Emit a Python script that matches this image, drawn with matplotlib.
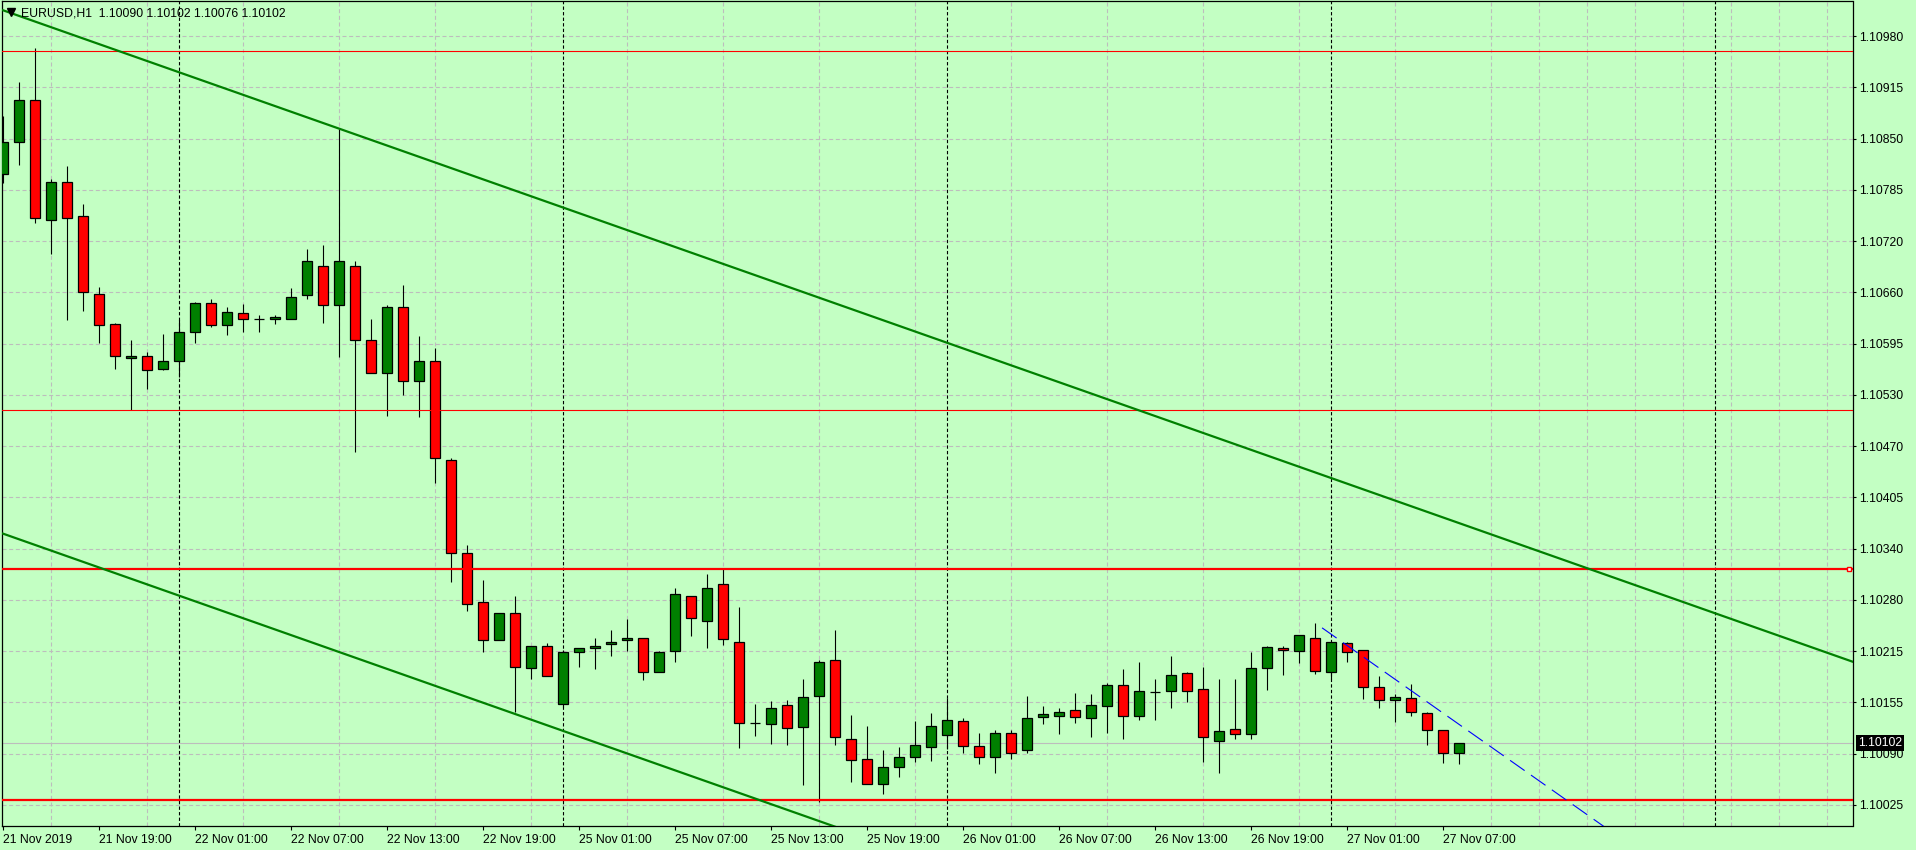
import matplotlib
matplotlib.use('Agg')
import matplotlib.pyplot as plt
from matplotlib.transforms import blended_transform_factory
import numpy as np

plt.rcParams['font.family'] = ['Liberation Sans', 'DejaVu Sans']

# Barras H1 do EURUSD (abertura, maxima, minima, fechamento)
opens = [1.10809, 1.10849, 1.10901, 1.10752, 1.10799, 1.10756, 1.10660, 1.10622, 1.10580, 1.10582,
         1.10567, 1.10576, 1.10613, 1.10649, 1.10621, 1.10636, 1.10629, 1.10628, 1.10629, 1.10658,
         1.10694, 1.10646, 1.10695, 1.10602, 1.10561, 1.10643, 1.10551, 1.10576, 1.10454, 1.10338,
         1.10277, 1.10230, 1.10263, 1.10195, 1.10222, 1.10151, 1.10215, 1.10220, 1.10225, 1.10230,
         1.10232, 1.10190, 1.10216, 1.10285, 1.10253, 1.10299, 1.10228, 1.10127, 1.10125, 1.10149,
         1.10122, 1.10160, 1.10205, 1.10107, 1.10082, 1.10051, 1.10072, 1.10084, 1.10097, 1.10112,
         1.10129, 1.10098, 1.10084, 1.10115, 1.10093, 1.10134, 1.10135, 1.10143, 1.10133, 1.10148,
         1.10174, 1.10135, 1.10165, 1.10166, 1.10189, 1.10169, 1.10104, 1.10119, 1.10113, 1.10195,
         1.10220, 1.10216, 1.10233, 1.10190, 1.10226, 1.10218, 1.10172, 1.10156, 1.10158, 1.10139,
         1.10118, 1.10090]
highs = [1.10881, 1.10923, 1.10965, 1.10803, 1.10819, 1.10771, 1.10668, 1.10623, 1.10603, 1.10587,
         1.10610, 1.10627, 1.10650, 1.10653, 1.10643, 1.10647, 1.10634, 1.10634, 1.10667, 1.10716,
         1.10720, 1.10865, 1.10700, 1.10629, 1.10646, 1.10671, 1.10607, 1.10593, 1.10456, 1.10348,
         1.10304, 1.10264, 1.10285, 1.10222, 1.10226, 1.10218, 1.10220, 1.10232, 1.10242, 1.10256,
         1.10233, 1.10216, 1.10294, 1.10285, 1.10312, 1.10318, 1.10271, 1.10150, 1.10154, 1.10156,
         1.10181, 1.10205, 1.10242, 1.10137, 1.10123, 1.10093, 1.10097, 1.10129, 1.10139, 1.10158,
         1.10133, 1.10115, 1.10118, 1.10118, 1.10160, 1.10148, 1.10145, 1.10164, 1.10163, 1.10176,
         1.10194, 1.10203, 1.10182, 1.10210, 1.10190, 1.10196, 1.10182, 1.10181, 1.10215, 1.10223,
         1.10223, 1.10236, 1.10251, 1.10228, 1.10228, 1.10218, 1.10185, 1.10163, 1.10175, 1.10140,
         1.10118, 1.10102]
lows = [1.10798, 1.10820, 1.10748, 1.10709, 1.10627, 1.10638, 1.10599, 1.10566, 1.10515, 1.10542,
        1.10565, 1.10557, 1.10599, 1.10619, 1.10609, 1.10612, 1.10612, 1.10622, 1.10629, 1.10654,
        1.10623, 1.10581, 1.10463, 1.10562, 1.10508, 1.10534, 1.10507, 1.10425, 1.10302, 1.10266,
        1.10215, 1.10230, 1.10140, 1.10181, 1.10185, 1.10147, 1.10196, 1.10194, 1.10210, 1.10216,
        1.10180, 1.10190, 1.10202, 1.10235, 1.10220, 1.10224, 1.10096, 1.10111, 1.10101, 1.10099,
        1.10050, 1.10029, 1.10099, 1.10054, 1.10051, 1.10039, 1.10060, 1.10079, 1.10080, 1.10095,
        1.10090, 1.10076, 1.10065, 1.10082, 1.10090, 1.10126, 1.10113, 1.10127, 1.10109, 1.10115,
        1.10107, 1.10130, 1.10130, 1.10145, 1.10153, 1.10079, 1.10065, 1.10107, 1.10107, 1.10168,
        1.10187, 1.10201, 1.10188, 1.10181, 1.10203, 1.10157, 1.10146, 1.10128, 1.10135, 1.10099,
        1.10077, 1.10076]
closes = [1.10848, 1.10901, 1.10754, 1.10799, 1.10754, 1.10662, 1.10621, 1.10582, 1.10583, 1.10565,
          1.10577, 1.10613, 1.10649, 1.10621, 1.10637, 1.10628, 1.10629, 1.10631, 1.10656, 1.10701,
          1.10646, 1.10700, 1.10602, 1.10562, 1.10643, 1.10551, 1.10576, 1.10456, 1.10338, 1.10274,
          1.10230, 1.10264, 1.10196, 1.10222, 1.10185, 1.10215, 1.10220, 1.10223, 1.10228, 1.10232,
          1.10190, 1.10215, 1.10287, 1.10257, 1.10295, 1.10231, 1.10127, 1.10127, 1.10146, 1.10120,
          1.10159, 1.10203, 1.10110, 1.10081, 1.10051, 1.10072, 1.10084, 1.10099, 1.10123, 1.10130,
          1.10098, 1.10084, 1.10115, 1.10090, 1.10133, 1.10138, 1.10141, 1.10134, 1.10149, 1.10174,
          1.10136, 1.10167, 1.10165, 1.10187, 1.10167, 1.10109, 1.10117, 1.10113, 1.10195, 1.10221,
          1.10217, 1.10236, 1.10191, 1.10228, 1.10215, 1.10172, 1.10155, 1.10159, 1.10140, 1.10118,
          1.10089, 1.10102]

tick_pos = list(range(0, 91, 6))
tick_labels = ['21 Nov 2019', '21 Nov 19:00', '22 Nov 01:00', '22 Nov 07:00', '22 Nov 13:00',
               '22 Nov 19:00', '25 Nov 01:00', '25 Nov 07:00', '25 Nov 13:00', '25 Nov 19:00',
               '26 Nov 01:00', '26 Nov 07:00', '26 Nov 13:00', '26 Nov 19:00', '27 Nov 01:00',
               '27 Nov 07:00']
price_labels = ['1.10025', '1.10090', '1.10155', '1.10215', '1.10280', '1.10340', '1.10405', '1.10470',
                '1.10530', '1.10595', '1.10660', '1.10720', '1.10785', '1.10850', '1.10915', '1.10980']
separadores = [11, 35, 59, 83, 107]   # inicio de cada dia

# objetos desenhados no grafico
niveis_finos = [1.10961, 1.10515]
niveis_grossos = [1.10318, 1.10031]
canal_x = [0, 115.59]
canal_sup = [1.11012, 1.10203]
canal_inf = [1.10362, 1.09553]
azul_x = [82.44, 105]
azul_y = [1.10245, 1.09929]
bid = 1.10102
cabecalho = 'EURUSD,H1  1.10090 1.10102 1.10076 1.10102'

fundo = '#c3ffc3'
W, H = 1916, 850
fig = plt.figure(figsize=(W / 100, H / 100), dpi=100, facecolor=fundo)
ax = fig.add_axes([2 / W, 24 / H, 1850.5 / W, 825 / H], facecolor=fundo)

o = np.array(opens)
h = np.array(highs)
l = np.array(lows)
c = np.array(closes)
x = np.arange(len(o))
cores = np.where(c >= o, '#008000', '#ff0000')

ax.vlines(x, l, h, colors='black', linewidth=0.8, zorder=3)
ax.bar(x, np.abs(c - o), bottom=np.minimum(o, c), width=0.62, color=cores,
       edgecolor='black', linewidth=0.9, zorder=4)

# grade
ax.set_xticks(tick_pos)
ax.set_xticklabels(tick_labels, ha='left')
ax.set_xticks(np.arange(0, 116, 3), minor=True)
ax.set_yticks(np.linspace(1.10025, 1.10980, 16))
ax.set_yticklabels(price_labels)
ax.yaxis.tick_right()
ax.grid(True, which='minor', axis='x', color='#bdbdbd', lw=0.8, linestyle=(0, (3.6, 2.4)), zorder=0)
ax.grid(True, which='major', axis='y', color='#bdbdbd', lw=0.8, linestyle=(0, (3.6, 2.4)), zorder=0)
ax.tick_params(axis='x', which='major', length=3, width=0.8, pad=2.5, labelsize=8.8, colors='black')
ax.tick_params(axis='x', which='minor', length=0)
ax.tick_params(axis='y', length=2.5, width=0.8, pad=2.5, labelsize=8.8, colors='black')
ax.set_axisbelow(True)

for s in separadores:
    ax.axvline(s, color='black', lw=0.8, linestyle=(0, (3, 2)), zorder=1)

ax.axhline(bid, color='#bdbdbd', lw=0.8, zorder=1)
for p in niveis_finos:
    ax.axhline(p, color='#ff0000', lw=0.8, zorder=5)
for p in niveis_grossos:
    ax.axhline(p, color='#ff0000', lw=1.6, zorder=5)
ax.plot([115.4], [niveis_grossos[0]], marker='s', ms=3.5, mfc='white', mec='#ff0000', mew=1.0,
        zorder=6, clip_on=False)

ax.plot(canal_x, canal_sup, color='#008000', lw=1.6, zorder=5)
ax.plot(canal_x, canal_inf, color='#008000', lw=1.6, zorder=5)
ax.plot(azul_x, azul_y, color='#0000ff', lw=0.8, linestyle=(0, (16, 7)), zorder=5)

ax.set_xlim(-0.0625, 115.59)
ax.set_ylim(1.099989, 1.110235)
for sp in ax.spines.values():
    sp.set_color('black')
    sp.set_linewidth(0.9)

# caixa com o preco atual
tr = blended_transform_factory(ax.transAxes, ax.transData)
ax.text(1.0029, bid, '1.10102', transform=tr, color='white', fontsize=8.8, va='center', ha='left',
        bbox=dict(boxstyle='square,pad=0.15', fc='black', ec='none'), zorder=10, clip_on=False)

fig.text(21 / W, 1 - 13 / H, cabecalho, fontsize=8.8, va='center', ha='left', color='black')
fig.lines.append(plt.Line2D([10.5 / W], [1 - 12 / H], marker='v', ms=5.5, color='black',
                            transform=fig.transFigure))

fig.savefig('out.png', dpi=100, facecolor=fundo)
